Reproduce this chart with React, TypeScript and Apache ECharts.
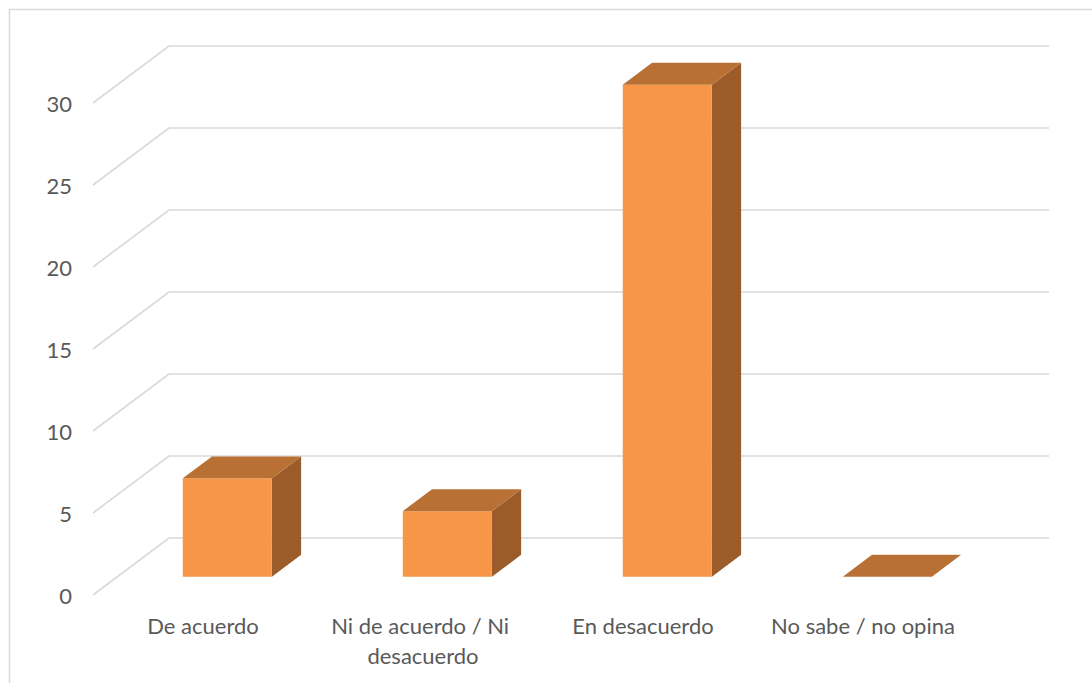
import React, { useEffect, useRef } from "react";
import * as echarts from "echarts";

const categories = ["De acuerdo", "Ni de acuerdo / Ni desacuerdo", "En desacuerdo", "No sabe / no opina"];
const values = [6, 4, 30, 0];
const yTicks = [0, 5, 10, 15, 20, 25, 30];

const DX = 76;
const DY = -57;
const FRONT = 0.32;
const DEPTH = 0.385;
const FONT = "Lato";
const TEXT = "#595959";

export default function App() {
  const ref = useRef<HTMLDivElement>(null);
  useEffect(() => {
    if (!ref.current) return;
    const chart = echarts.init(ref.current, undefined, { renderer: "svg" });
    const option: any = {
      animation: false,
      backgroundColor: "#ffffff",
      grid: { left: 93, top: 103, width: 880, height: 492, containLabel: false },
      graphic: [
        {
          type: "rect",
          shape: { x: 9.5, y: 9.5, width: 1200, height: 800 },
          style: { fill: "none", stroke: "#D9D9D9", lineWidth: 1.5 },
          silent: true,
          z: -10,
        },
      ],
      xAxis: {
        type: "category",
        data: categories,
        axisLine: { show: false },
        axisTick: { show: false },
        splitLine: { show: false },
        axisLabel: {
          interval: 0,
          color: TEXT,
          fontFamily: FONT,
          fontSize: 22,
          margin: 15,
          width: 215,
          overflow: "break",
          lineHeight: 30,
        },
      },
      yAxis: {
        type: "value",
        min: 0,
        max: 30,
        interval: 5,
        axisLine: { show: false },
        axisTick: { show: false },
        splitLine: { show: false },
        axisLabel: { color: TEXT, fontFamily: FONT, fontSize: 22, margin: 21 },
      },
      series: [
        {
          type: "custom",
          name: "walls",
          z: 1,
          silent: true,
          data: yTicks.map((v) => [0, v]),
          renderItem: (params: any, api: any) => {
            const cs = params.coordSys;
            const y = api.coord([0, api.value(1)])[1];
            const x0 = cs.x;
            return {
              type: "polyline",
              shape: {
                points: [
                  [x0, y],
                  [x0 + DX, y + DY],
                  [x0 + cs.width + DX, y + DY],
                ],
              },
              style: { fill: "none", stroke: "#D9D9D9", lineWidth: 1.6 },
            };
          },
        },
        {
          type: "custom",
          name: "bars",
          z: 2,
          data: values.map((v, i) => [i, v]),
          renderItem: (params: any, api: any) => {
            const i = api.value(0);
            const v = api.value(1);
            const p0 = api.coord([i, 0]);
            const p1 = api.coord([i, v]);
            const bw = api.size([1, 0])[0] * 0.405;
            const fx = p0[0] + FRONT * DX - bw / 2;
            const baseY = p0[1] + FRONT * DY;
            const topY = p1[1] + FRONT * DY;
            const ddx = DEPTH * DX;
            const ddy = DEPTH * DY;
            const children: any[] = [];
            if (baseY - topY > 0.5) {
              children.push({
                type: "polygon",
                shape: {
                  points: [
                    [fx + bw, topY],
                    [fx + bw + ddx, topY + ddy],
                    [fx + bw + ddx, baseY + ddy],
                    [fx + bw, baseY],
                  ],
                },
                style: { fill: "#9B5C2A" },
              });
              children.push({
                type: "rect",
                shape: { x: fx, y: topY, width: bw, height: baseY - topY },
                style: { fill: "#F79646" },
              });
            }
            children.push({
              type: "polygon",
              shape: {
                points: [
                  [fx, topY],
                  [fx + bw, topY],
                  [fx + bw + ddx, topY + ddy],
                  [fx + ddx, topY + ddy],
                ],
              },
              style: { fill: "#B97034" },
            });
            return { type: "group", children };
          },
        },
      ],
    };
    chart.setOption(option);
    return () => chart.dispose();
  }, []);
  return (
    <div
      ref={ref}
      style={{ position: "fixed", left: 0, top: 0, width: 1092, height: 683 }}
    />
  );
}
